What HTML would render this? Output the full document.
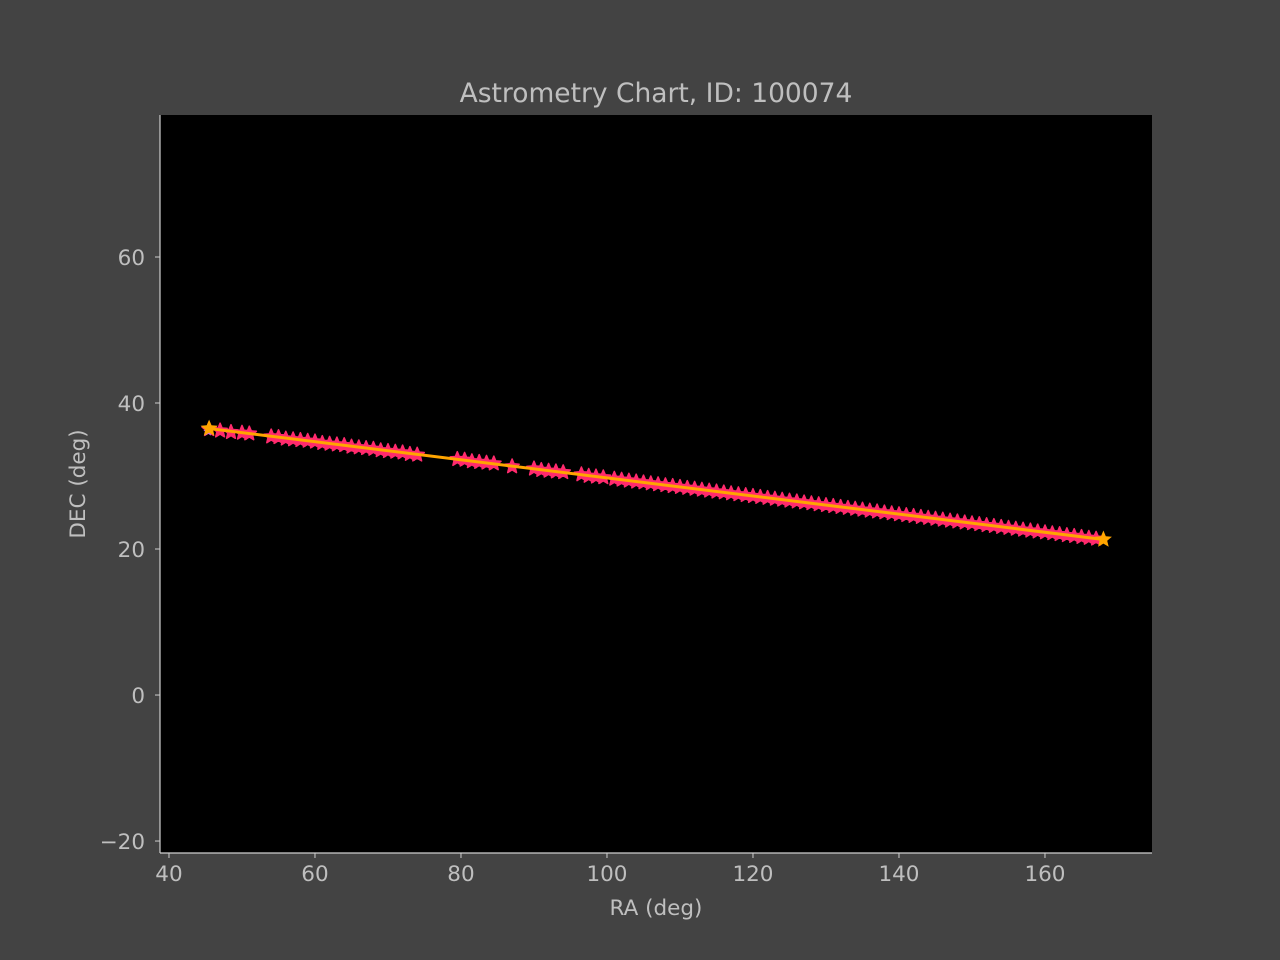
<!DOCTYPE html>
<html><head><meta charset="utf-8"><style>
html,body{margin:0;padding:0;background:#434343;overflow:hidden;}
svg{display:block;}
svg text{font-family:"DejaVu Sans","Liberation Sans",sans-serif;fill:#bfbfbf;}
</style></head><body>
<svg id="chart" width="1280" height="960" xmlns="http://www.w3.org/2000/svg">
<rect x="0" y="0" width="1280" height="960" fill="#434343"/>
<rect x="160" y="115" width="992" height="738" fill="#000"/>
<text x="656" y="102" font-size="26.5" text-anchor="middle">Astrometry Chart, ID: 100074</text>
<text x="656" y="915" font-size="21.5" text-anchor="middle">RA (deg)</text>
<text x="85" y="484" font-size="21.5" text-anchor="middle" transform="rotate(-90 85 484)">DEC (deg)</text>
<g id="axes"></g>
<g id="marks"></g>
</svg>
<script>
const raValues = [45.5,47,48.5,50,51,54,55,56,57,58,59,60,61,62,63,64,65,66,67,68,69,70,71,72,73,74,79.5,80.5,81.5,82.5,83.5,84.5,87,90,91,92,93,94,96.5,97.5,98.5,99.5,
101,102,103,104,105,106,107,108,109,110,111,112,113,114,115,116,117,118,119,120,121,122,123,124,125,126,127,128,129,130,131,132,133,134,135,136,137,138,139,140,141,142,143,144,145,146,147,148,149,150,151,152,153,154,155,156,157,158,159,160,161,162,163,164,165,166,167];
const decValues = [36.4,36.2,36.0,35.9,35.8,35.4,35.3,35.1,35.0,34.9,34.8,34.7,34.5,34.4,34.3,34.2,34.0,33.9,33.8,33.7,33.5,33.4,33.3,33.2,33.0,32.9,32.3,32.2,32.0,31.9,31.8,31.7,31.3,31.0,30.8,30.7,30.6,30.5,30.2,30.0,29.9,29.8,
29.60,29.47,29.35,29.22,29.10,28.97,28.85,28.72,28.60,28.48,28.35,28.23,28.10,27.98,27.85,27.73,27.60,27.48,27.36,27.23,27.11,26.98,26.86,26.73,26.61,26.49,26.36,26.24,26.11,25.99,25.86,25.74,25.61,25.49,25.37,25.24,25.12,24.99,24.87,24.74,24.62,24.50,24.37,24.25,24.12,24.00,23.87,23.75,23.62,23.50,23.38,23.25,23.13,23.00,22.88,22.75,22.63,22.51,22.38,22.26,22.13,22.01,21.88,21.76,21.63,21.51,21.39];
const fitRA = [45.5,168];
const fitDEC = [36.5,21.3];
const xTicks = [40,60,80,100,120,140,160];
const yTicks = [-20,0,20,40,60];

const X0=160,X1=1152,Y0=115,Y1=853;
const xMin=38.77,xMax=174.66,yMin=-21.64,yMax=79.45;
const xs=v=>X0+(v-xMin)/(xMax-xMin)*(X1-X0);
const ys=v=>Y1-(v-yMin)/(yMax-yMin)*(Y1-Y0);
const NS="http://www.w3.org/2000/svg";
function mk(tag,attrs,parent){const e=document.createElementNS(NS,tag);for(const k in attrs)e.setAttribute(k,attrs[k]);parent.appendChild(e);return e;}
const axes=document.getElementById('axes'), marks=document.getElementById('marks');
function starPts(cx,cy,r){let p=[];for(let i=0;i<10;i++){const a=-Math.PI/2+i*Math.PI/5;const rr=i%2?r*0.45:r;p.push((cx+rr*Math.cos(a)).toFixed(1)+','+(cy+rr*Math.sin(a)).toFixed(1));}return p.join(' ');}

let l=mk('line',{x1:X0,y1:Y0,x2:X0,y2:Y1,stroke:'#cfcfcf','stroke-width':1.2},axes);


l=mk('line',{x1:X0,y1:Y1,x2:X1,y2:Y1,stroke:'#cfcfcf','stroke-width':1.2},axes);


xTicks.forEach(t=>{const x=xs(t);
 const tk=mk('line',{x1:x,y1:Y1,x2:x,y2:Y1+5,stroke:'#cfcfcf','stroke-width':1},axes);
 
 
 const tx=mk('text',{x:x,y:Y1+28,'font-size':21.5,'text-anchor':'middle'},axes);tx.textContent=t;
 
 
});
yTicks.forEach(t=>{const y=ys(t);
 const tk=mk('line',{x1:X0-5,y1:y,x2:X0,y2:y,stroke:'#cfcfcf','stroke-width':1},axes);
 
 
 const tx=mk('text',{x:X0-15,y:y+8,'font-size':21.5,'text-anchor':'end'},axes);tx.textContent=t<0?'\u2212'+(-t):t;
 
 
});
raValues.forEach((ra,i)=>{
 const s=mk('polygon',{points:starPts(xs(ra),ys(decValues[i]),7.5),fill:'#ff2a6d',stroke:'#ff2a6d','stroke-width':1.5,'stroke-linejoin':'round'},marks);
 
 
});
const v=mk('polygon',{points:starPts(xs(fitRA[0])-1,ys(fitDEC[0])+3,5),fill:'#d070e0'},marks);


const fl=mk('line',{x1:xs(fitRA[0]),y1:ys(fitDEC[0]),x2:xs(fitRA[1]),y2:ys(fitDEC[1]),stroke:'#ffa500','stroke-width':3},marks);


fitRA.forEach((ra,i)=>{
 const s=mk('polygon',{points:starPts(xs(ra),ys(fitDEC[i]),9),fill:'#ffa500'},marks);
 
 
});
</script>
</body></html>
